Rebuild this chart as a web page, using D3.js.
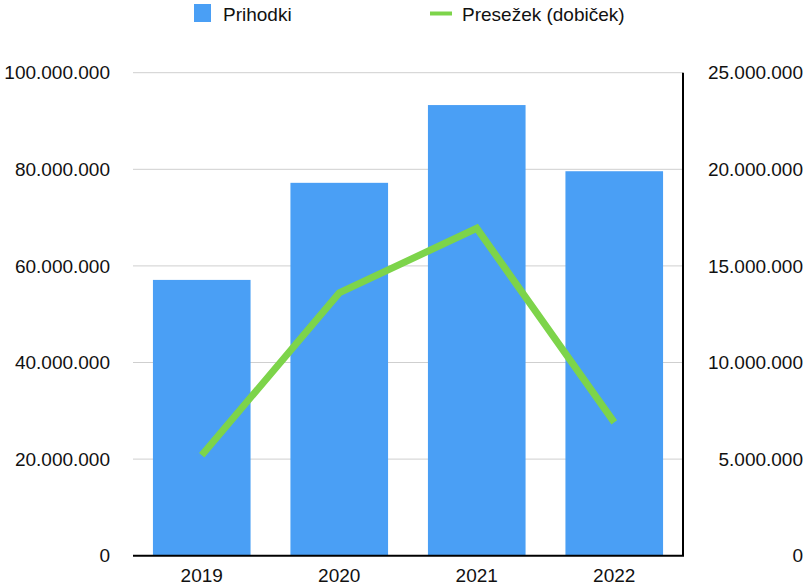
<!DOCTYPE html>
<html><head><meta charset="utf-8">
<script src="https://cdn.jsdelivr.net/npm/d3@7"></script>
<style>body{margin:0;background:#fff}svg{display:block}text{font-family:"Liberation Sans",Arial,sans-serif;fill:#111}</style>
</head><body><svg id="c" width="806" height="587"></svg>
<script>
const categories = ["2019","2020","2021","2022"];
const revenue = [57100000, 77200000, 93300000, 79600000];
const profit = [5200000, 13600000, 16950000, 6900000];
const leftTicks = [0,20000000,40000000,60000000,80000000,100000000];
const rightTicks = [0,5000000,10000000,15000000,20000000,25000000];
const seriesNames = ["Prihodki","Presežek (dobiček)"];

const svg = d3.select("#c");
const L=133, R=683, T=72.7, B=555.7;
const x = d3.scaleBand().domain(categories).range([L,R]).paddingInner(0.29).paddingOuter(0.145);
const yL = d3.scaleLinear().domain([0,100000000]).range([B,T]);
const yR = d3.scaleLinear().domain([0,25000000]).range([B,T]);
const fmt = v => d3.format(",")(v).replace(/,/g,".");

// gridlines
svg.append("g").selectAll("line").data(leftTicks.slice(1)).join("line")
  .attr("x1",L).attr("x2",R).attr("y1",d=>yL(d)).attr("y2",d=>yL(d))
  .attr("stroke","#cfcfcf").attr("stroke-width",1);

// bars
svg.append("g").selectAll("rect").data(revenue).join("rect")
  .attr("x",(d,i)=>x(categories[i])).attr("width",x.bandwidth())
  .attr("y",d=>yL(d)).attr("height",d=>B-yL(d)).attr("fill","#4A9FF5");

// axes lines
svg.append("line").attr("x1",L).attr("x2",R+1).attr("y1",B).attr("y2",B).attr("stroke","#000").attr("stroke-width",2);
svg.append("line").attr("x1",R).attr("x2",R).attr("y1",T).attr("y2",B).attr("stroke","#000").attr("stroke-width",2);

// line
const line = d3.line().x((d,i)=>x(categories[i])+x.bandwidth()/2).y(d=>yR(d));
svg.append("path").datum(profit).attr("d",line).attr("fill","none")
  .attr("stroke","#7DD44A").attr("stroke-width",7).attr("stroke-linejoin","miter").attr("stroke-linecap","butt");

// left labels
svg.append("g").selectAll("text").data(leftTicks).join("text")
  .attr("x",110).attr("y",d=>yL(d)).attr("dy","0.35em").attr("text-anchor","end")
  .attr("font-size",19).text(fmt);
// right labels
svg.append("g").selectAll("text").data(rightTicks).join("text")
  .attr("x",803).attr("y",d=>yR(d)).attr("dy","0.35em").attr("text-anchor","end")
  .attr("font-size",19).text(fmt);
// x labels
svg.append("g").selectAll("text").data(categories).join("text")
  .attr("x",d=>x(d)+x.bandwidth()/2).attr("y",582).attr("text-anchor","middle")
  .attr("font-size",19).text(d=>d);

// legend
svg.append("rect").attr("x",194).attr("y",4).attr("width",17).attr("height",18).attr("fill","#4A9FF5");
svg.append("text").attr("x",223).attr("y",21).attr("font-size",19).text(seriesNames[0]);
svg.append("line").attr("x1",430).attr("x2",452).attr("y1",13.5).attr("y2",13.5).attr("stroke","#7DD44A").attr("stroke-width",4);
svg.append("text").attr("x",462).attr("y",21).attr("font-size",19).text(seriesNames[1]);
</script></body></html>
